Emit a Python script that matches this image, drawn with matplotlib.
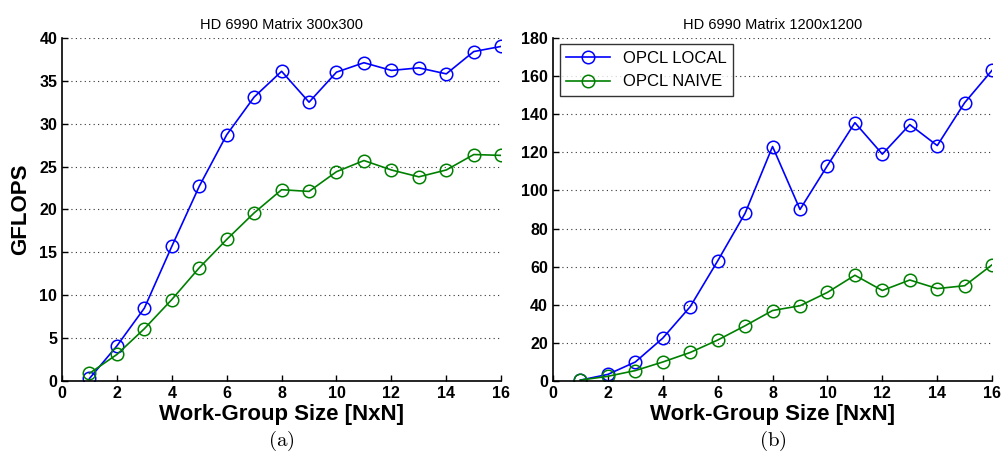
import numpy as np
import matplotlib as mpl
import matplotlib.pyplot as plt

mpl.rcParams['font.family'] = ['Liberation Sans', 'DejaVu Sans']
mpl.rcParams['mathtext.fontset'] = 'cm'

wg_size = np.arange(1, 17)

# 300x300 matrix
local_300 = [0.3, 4.1, 8.5, 15.7, 22.7, 28.7, 33.1, 36.1, 32.5, 36.0, 37.1, 36.2, 36.5, 35.8, 38.4, 39.0]
naive_300 = [0.9, 3.1, 6.1, 9.5, 13.2, 16.5, 19.6, 22.3, 22.1, 24.4, 25.7, 24.6, 23.8, 24.6, 26.4, 26.3]

# 1200x1200 matrix
local_1200 = [0.5, 3.5, 10.0, 22.5, 39.0, 63.0, 88.0, 123.0, 90.0, 113.0, 135.5, 119.0, 134.5, 123.5, 146.0, 163.0]
naive_1200 = [0.5, 2.5, 5.5, 10.0, 15.0, 21.5, 29.0, 37.0, 39.5, 46.5, 55.5, 47.5, 53.0, 48.5, 50.0, 61.0]

panels = [
    ('HD 6990 Matrix 300x300', local_300, naive_300, 40, 5, '(a)'),
    ('HD 6990 Matrix 1200x1200', local_1200, naive_1200, 180, 20, '(b)'),
]

fig = plt.figure(figsize=(10.05, 4.67), dpi=100)
lefts = [0.0617, 0.5502]
width = 0.437

for i, (title, loc, nai, ymax, ystep, tag) in enumerate(panels):
    ax = fig.add_axes([lefts[i], 0.184, width, 0.735])
    ax.plot(wg_size, loc, '-o', color='#0000ff', mfc='none', ms=9, mew=1.1, lw=1.2, label='OPCL LOCAL')
    ax.plot(wg_size, nai, '-o', color='#008000', mfc='none', ms=9, mew=1.1, lw=1.2, label='OPCL NAIVE')
    ax.set_xlim(0, 16)
    ax.set_ylim(0, ymax)
    ax.set_xticks(np.arange(0, 17, 2))
    ax.set_yticks(np.arange(0, ymax + 1, ystep))
    ax.yaxis.grid(True, linestyle=(0, (1, 3)), color='#333333', lw=0.8)
    ax.spines['top'].set_visible(False)
    ax.spines['right'].set_visible(False)
    ax.spines['left'].set_linewidth(1.2)
    ax.spines['bottom'].set_linewidth(1.2)
    ax.tick_params(direction='in', length=4, width=1, labelsize=11.5)
    for lab in ax.get_xticklabels() + ax.get_yticklabels():
        lab.set_fontweight('bold')
    ax.set_title(title, fontsize=10.5, pad=6)
    ax.set_xlabel('Work-Group Size [NxN]', fontsize=16, fontweight='bold', labelpad=2)
    if i == 0:
        ax.set_ylabel('GFLOPS', fontsize=16, fontweight='bold', labelpad=6)
    else:
        leg = ax.legend(loc='upper left', fontsize=12, frameon=True, fancybox=False,
                        edgecolor='black', borderaxespad=0.4, handlelength=2.6)
        leg.get_frame().set_linewidth(1.0)
    fig.text(lefts[i] + width / 2, 0.055, r'$\mathrm{' + tag + '}$', ha='center', va='center', fontsize=15)

fig.savefig('out.png', dpi=100)
